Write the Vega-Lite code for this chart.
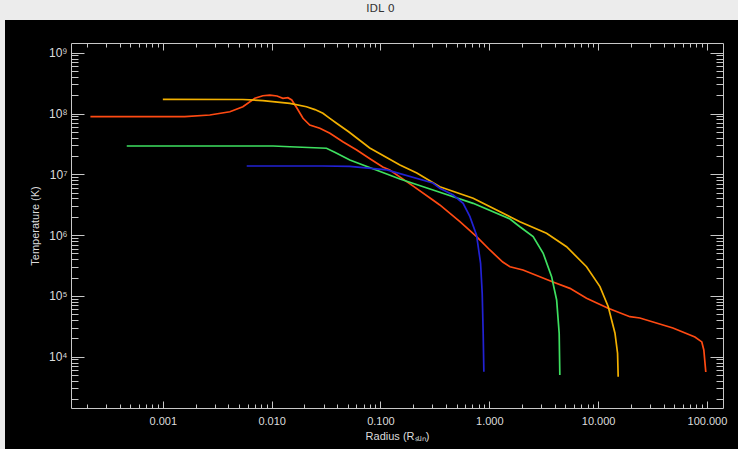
{
  "$schema": "https://vega.github.io/schema/vega-lite/v6.json",
  "width": 733,
  "height": 429,
  "autosize": {"type": "none"},
  "padding": {"left": 5, "top": 20, "right": 0, "bottom": 0},
  "background": "#ececec",
  "title": {"text": "IDL 0", "fontSize": 11, "font": "DejaVu Sans", "fontWeight": "normal", "color": "#333333", "offset": 6, "dx": 9},
  "config": {
    "view": {"fill": "#000000", "stroke": null},
    "axis": {
      "grid": false,
      "domainColor": "#c8c8c8",
      "tickColor": "#c8c8c8",
      "labelColor": "#dcdcdc",
      "titleColor": "#dcdcdc",
      "labelFont": "Liberation Sans",
      "titleFont": "Liberation Sans",
      "labelFontSize": 11,
      "titleFontSize": 11,
      "titleFontWeight": "normal",
      "domainWidth": 1,
      "tickWidth": 1
    }
  },
  "data": {
    "values": [
      {"s": "red", "r": 0.000216, "T": 88600000},
      {"s": "red", "r": 0.00159, "T": 88600000},
      {"s": "red", "r": 0.0027, "T": 94400000},
      {"s": "red", "r": 0.00413, "T": 107000000},
      {"s": "red", "r": 0.00544, "T": 129000000},
      {"s": "red", "r": 0.00701, "T": 178000000},
      {"s": "red", "r": 0.0083, "T": 196000000},
      {"s": "red", "r": 0.00962, "T": 201000000},
      {"s": "red", "r": 0.0112, "T": 194000000},
      {"s": "red", "r": 0.0127, "T": 178000000},
      {"s": "red", "r": 0.0141, "T": 182000000},
      {"s": "red", "r": 0.0153, "T": 167000000},
      {"s": "red", "r": 0.0171, "T": 122000000},
      {"s": "red", "r": 0.0194, "T": 83400000},
      {"s": "red", "r": 0.0224, "T": 64700000},
      {"s": "red", "r": 0.0277, "T": 57100000},
      {"s": "red", "r": 0.0343, "T": 47200000},
      {"s": "red", "r": 0.0451, "T": 34400000},
      {"s": "red", "r": 0.0605, "T": 25100000},
      {"s": "red", "r": 0.08, "T": 18000000},
      {"s": "red", "r": 0.105, "T": 13200000},
      {"s": "red", "r": 0.1217, "T": 11800000},
      {"s": "red", "r": 0.2, "T": 6400000},
      {"s": "red", "r": 0.303, "T": 3770000},
      {"s": "red", "r": 0.351, "T": 3130000},
      {"s": "red", "r": 0.537, "T": 1660000},
      {"s": "red", "r": 0.769, "T": 931000},
      {"s": "red", "r": 1.013, "T": 569000},
      {"s": "red", "r": 1.33, "T": 360000},
      {"s": "red", "r": 1.55, "T": 302000},
      {"s": "red", "r": 2.04, "T": 267000},
      {"s": "red", "r": 3.85, "T": 169000},
      {"s": "red", "r": 5.51, "T": 133000},
      {"s": "red", "r": 7.83, "T": 91400},
      {"s": "red", "r": 12.38, "T": 62500},
      {"s": "red", "r": 19.6, "T": 45500},
      {"s": "red", "r": 24.2, "T": 43300},
      {"s": "red", "r": 48.7, "T": 29600},
      {"s": "red", "r": 77.6, "T": 21100},
      {"s": "red", "r": 89.8, "T": 17500},
      {"s": "red", "r": 93.7, "T": 12900},
      {"s": "red", "r": 97.7, "T": 5600},
      {"s": "orange", "r": 0.001, "T": 171000000},
      {"s": "orange", "r": 0.00544, "T": 170000000},
      {"s": "orange", "r": 0.0083, "T": 163000000},
      {"s": "orange", "r": 0.0147, "T": 147000000},
      {"s": "orange", "r": 0.0209, "T": 129000000},
      {"s": "orange", "r": 0.025, "T": 116000000},
      {"s": "orange", "r": 0.0296, "T": 101000000},
      {"s": "orange", "r": 0.034, "T": 84000000},
      {"s": "orange", "r": 0.0395, "T": 69000000},
      {"s": "orange", "r": 0.051, "T": 50000000},
      {"s": "orange", "r": 0.0797, "T": 27100000},
      {"s": "orange", "r": 0.151, "T": 14200000},
      {"s": "orange", "r": 0.216, "T": 10500000},
      {"s": "orange", "r": 0.351, "T": 6250000},
      {"s": "orange", "r": 0.711, "T": 4030000},
      {"s": "orange", "r": 1.55, "T": 2010000},
      {"s": "orange", "r": 1.91, "T": 1660000},
      {"s": "orange", "r": 3.36, "T": 1070000},
      {"s": "orange", "r": 5.13, "T": 644000},
      {"s": "orange", "r": 7.83, "T": 302000},
      {"s": "orange", "r": 10.4, "T": 142000},
      {"s": "orange", "r": 12.4, "T": 66400},
      {"s": "orange", "r": 14.3, "T": 24300},
      {"s": "orange", "r": 15.1, "T": 11400},
      {"s": "orange", "r": 15.3, "T": 4690},
      {"s": "green", "r": 0.000466, "T": 29200000},
      {"s": "green", "r": 0.0103, "T": 29200000},
      {"s": "green", "r": 0.0147, "T": 28400000},
      {"s": "green", "r": 0.0319, "T": 26800000},
      {"s": "green", "r": 0.038, "T": 23000000},
      {"s": "green", "r": 0.0523, "T": 17200000},
      {"s": "green", "r": 0.151, "T": 8370000},
      {"s": "green", "r": 0.351, "T": 5060000},
      {"s": "green", "r": 0.711, "T": 3330000},
      {"s": "green", "r": 1.55, "T": 1840000},
      {"s": "green", "r": 1.91, "T": 1370000},
      {"s": "green", "r": 2.53, "T": 942000},
      {"s": "green", "r": 3.13, "T": 502000},
      {"s": "green", "r": 3.74, "T": 207000},
      {"s": "green", "r": 4.16, "T": 85700},
      {"s": "green", "r": 4.39, "T": 24300},
      {"s": "green", "r": 4.45, "T": 5000},
      {"s": "blue", "r": 0.0059, "T": 13700000},
      {"s": "blue", "r": 0.0295, "T": 13700000},
      {"s": "blue", "r": 0.0523, "T": 13500000},
      {"s": "blue", "r": 0.1145, "T": 11800000},
      {"s": "blue", "r": 0.303, "T": 7190000},
      {"s": "blue", "r": 0.351, "T": 5890000},
      {"s": "blue", "r": 0.466, "T": 4570000},
      {"s": "blue", "r": 0.575, "T": 3330000},
      {"s": "blue", "r": 0.664, "T": 2010000},
      {"s": "blue", "r": 0.764, "T": 1000000},
      {"s": "blue", "r": 0.832, "T": 344000},
      {"s": "blue", "r": 0.861, "T": 110000},
      {"s": "blue", "r": 0.879, "T": 24300},
      {"s": "blue", "r": 0.892, "T": 5660}
    ]
  },
  "layer": [
    {
      "mark": {"type": "line", "strokeWidth": 1.7},
      "encoding": {
        "x": {
          "field": "r", "type": "quantitative",
          "scale": {"type": "log", "domain": [0.0001432, 140.6], "range": [66, 718], "nice": false},
          "axis": {"orient": "bottom", "offset": -41, "values": [0.001, 0.01, 0.1, 1, 10, 100], "format": ".3f", "ticks": false, "labelPadding": 7, "labelFlush": false, "labelOverlap": false, "title": "Radius (Rₛᵤₙ)", "titlePadding": 4}
        },
        "y": {
          "field": "T", "type": "quantitative",
          "scale": {"type": "log", "domain": [1433, 1444000000], "range": [388, 23], "nice": false},
          "axis": {"orient": "left", "offset": -66, "values": [10000, 100000, 1000000, 10000000, 100000000, 1000000000], "labelExpr": "'10' + ['⁰','¹','²','³','⁴','⁵','⁶','⁷','⁸','⁹'][round(log(datum.value)/LN10)]", "ticks": false, "labelPadding": 4, "labelFontSize": 12, "labelFlush": false, "labelOverlap": false, "title": "Temperature (K)", "titlePadding": 8}
        },
        "color": {
          "field": "s", "type": "nominal",
          "scale": {"domain": ["blue", "green", "orange", "red"], "range": ["#2222d4", "#3ee060", "#f2b000", "#ff4a12"]},
          "legend": null
        }
      }
    },
    {
      "mark": {"type": "line", "opacity": 0},
      "encoding": {
        "x": {"field": "r", "type": "quantitative", "axis": {"orient": "bottom", "offset": -41, "values": [0.001, 0.01, 0.1, 1, 10, 100], "labels": false, "domain": false, "tickSize": -7, "title": null}},
        "y": {"field": "T", "type": "quantitative", "axis": {"orient": "left", "offset": -66, "values": [10000, 100000, 1000000, 10000000, 100000000, 1000000000], "labels": false, "domain": false, "tickSize": -13, "title": null}}
      }
    },
    {
      "mark": {"type": "line", "opacity": 0},
      "encoding": {
        "x": {"field": "r", "type": "quantitative", "axis": {"orient": "bottom", "offset": -41, "values": [0.0002, 0.0003, 0.0004, 0.0005, 0.0006, 0.0007, 0.0008, 0.0009, 0.002, 0.003, 0.004, 0.005, 0.006, 0.007, 0.008, 0.009, 0.02, 0.03, 0.04, 0.05, 0.06, 0.07, 0.08, 0.09, 0.2, 0.3, 0.4, 0.5, 0.6, 0.7, 0.8, 0.9, 2, 3, 4, 5, 6, 7, 8, 9, 20, 30, 40, 50, 60, 70, 80, 90], "labels": false, "domain": false, "tickSize": -4, "title": null}},
        "y": {"field": "T", "type": "quantitative", "axis": {"orient": "left", "offset": -66, "values": [2000, 3000, 4000, 5000, 6000, 7000, 8000, 9000, 20000, 30000, 40000, 50000, 60000, 70000, 80000, 90000, 200000, 300000, 400000, 500000, 600000, 700000, 800000, 900000, 2000000, 3000000, 4000000, 5000000, 6000000, 7000000, 8000000, 9000000, 20000000, 30000000, 40000000, 50000000, 60000000, 70000000, 80000000, 90000000, 200000000, 300000000, 400000000, 500000000, 600000000, 700000000, 800000000, 900000000], "labels": false, "domain": false, "tickSize": -7, "title": null}}
      }
    },
    {
      "mark": {"type": "line", "opacity": 0},
      "encoding": {
        "x": {"field": "r", "type": "quantitative", "axis": {"orient": "top", "offset": -23, "values": [0.001, 0.01, 0.1, 1, 10, 100], "labels": false, "domain": true, "tickSize": -7, "title": null}},
        "y": {"field": "T", "type": "quantitative", "axis": {"orient": "right", "offset": -15, "values": [10000, 100000, 1000000, 10000000, 100000000, 1000000000], "labels": false, "domain": true, "tickSize": -13, "title": null}}
      }
    },
    {
      "mark": {"type": "line", "opacity": 0},
      "encoding": {
        "x": {"field": "r", "type": "quantitative", "axis": {"orient": "top", "offset": -23, "values": [0.0002, 0.0003, 0.0004, 0.0005, 0.0006, 0.0007, 0.0008, 0.0009, 0.002, 0.003, 0.004, 0.005, 0.006, 0.007, 0.008, 0.009, 0.02, 0.03, 0.04, 0.05, 0.06, 0.07, 0.08, 0.09, 0.2, 0.3, 0.4, 0.5, 0.6, 0.7, 0.8, 0.9, 2, 3, 4, 5, 6, 7, 8, 9, 20, 30, 40, 50, 60, 70, 80, 90], "labels": false, "domain": false, "tickSize": -4, "title": null}},
        "y": {"field": "T", "type": "quantitative", "axis": {"orient": "right", "offset": -15, "values": [2000, 3000, 4000, 5000, 6000, 7000, 8000, 9000, 20000, 30000, 40000, 50000, 60000, 70000, 80000, 90000, 200000, 300000, 400000, 500000, 600000, 700000, 800000, 900000, 2000000, 3000000, 4000000, 5000000, 6000000, 7000000, 8000000, 9000000, 20000000, 30000000, 40000000, 50000000, 60000000, 70000000, 80000000, 90000000, 200000000, 300000000, 400000000, 500000000, 600000000, 700000000, 800000000, 900000000], "labels": false, "domain": false, "tickSize": -7, "title": null}}
      }
    }
  ],
  "resolve": {"axis": {"x": "independent", "y": "independent"}}
}
